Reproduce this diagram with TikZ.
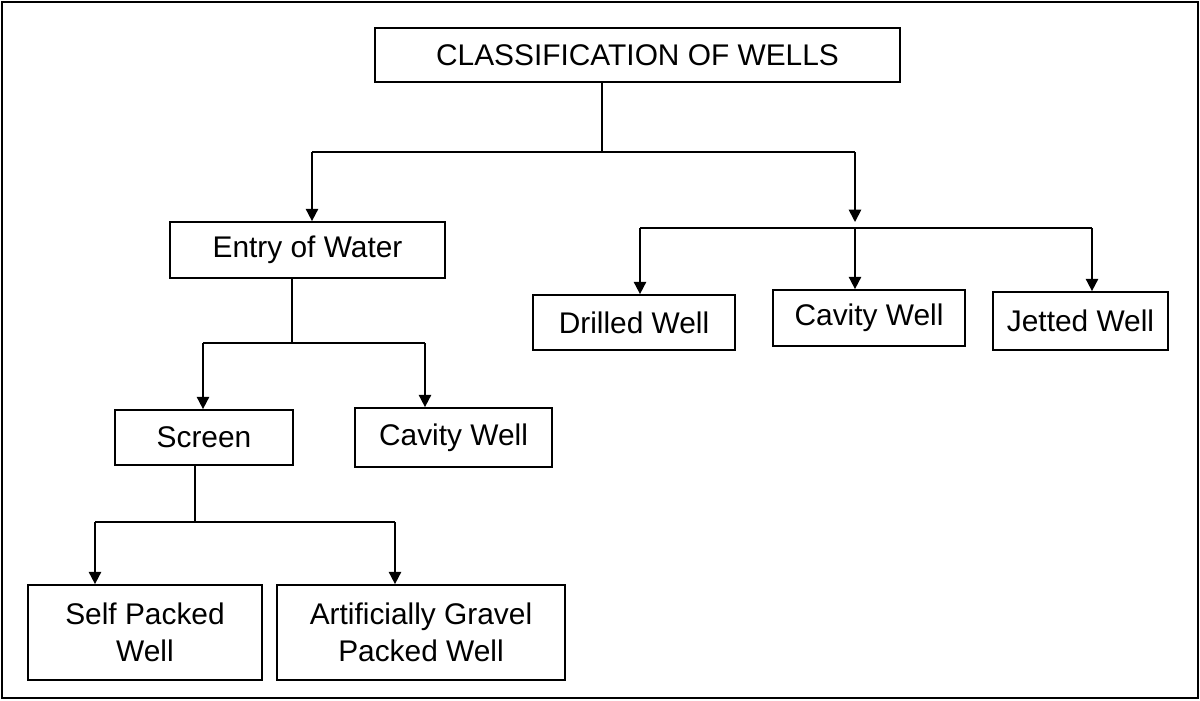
\documentclass[tikz,border=0pt]{standalone}
\usepackage{fontspec}
\setmainfont{Liberation Sans}
\usetikzlibrary{arrows.meta}
\begin{document}
\begin{tikzpicture}[x=0.02cm,y=-0.02cm,
  box/.style={draw,line width=1pt,inner sep=0pt,align=center,font=\fontsize{17}{21}\selectfont},
  link/.style={line width=1pt},
  arr/.style={line width=1pt,-{Triangle[length=7pt,width=7pt]}}]

	\draw[line width=1pt] (2,2) rectangle (1198,698);
	\useasboundingbox (0,0) rectangle (1200,700);

	\node[box,minimum width=10.5cm,minimum height=1.08cm] (title) at (637.5,55) {CLASSIFICATION OF WELLS};
	\node[box,minimum width=5.5cm,minimum height=1.12cm] (entry) at (307.5,250) {Entry of Water};
	\node[box,minimum width=4.04cm,minimum height=1.1cm] (drilled) at (634,322.5) {Drilled Well};
	\node[box,minimum width=3.84cm,minimum height=1.12cm] (cavR) at (869,318) {Cavity Well};
	\node[box,minimum width=3.5cm,minimum height=1.16cm] (jetted) at (1080.5,321) {Jetted Well};
	\node[box,minimum width=3.56cm,minimum height=1.1cm] (screen) at (204,437.5) {Screen};
	\node[box,minimum width=3.94cm,minimum height=1.18cm] (cavL) at (453.5,437.5) {Cavity Well};
	\node[box,minimum width=4.68cm,minimum height=1.9cm] (self) at (145,632.5) {Self Packed\\Well};
	\node[box,minimum width=5.76cm,minimum height=1.9cm] (gravel) at (421,632.5) {Artificially Gravel\\Packed Well};

	\coordinate (t1) at (602,152);
	\coordinate (t2) at (855,228);
	\coordinate (e1) at (292,343);
	\coordinate (s1) at (195,522);

	\draw[link] (title.south -| t1) -- (t1);
	\draw[link] (312,152) -- (855,152);
	\draw[arr] (312,152) -- (entry.north -| 312,0);
	\draw[arr] (855,152) -- (855,222);
	\draw[link] (640,228) -- (1092,228);
	\draw[arr] (640,228) -- (drilled.north -| 640,0);
	\draw[arr] (t2) -- (cavR.north -| t2);
	\draw[arr] (1092,228) -- (jetted.north -| 1092,0);

	\draw[link] (entry.south -| e1) -- (e1);
	\draw[link] (203,343) -- (425,343);
	\draw[arr] (203,343) -- (screen.north -| 203,0);
	\draw[arr] (425,343) -- (cavL.north -| 425,0);

	\draw[link] (screen.south -| s1) -- (s1);
	\draw[link] (95,522) -- (395,522);
	\draw[arr] (95,522) -- (self.north -| 95,0);
	\draw[arr] (395,522) -- (gravel.north -| 395,0);

\end{tikzpicture}
\end{document}
